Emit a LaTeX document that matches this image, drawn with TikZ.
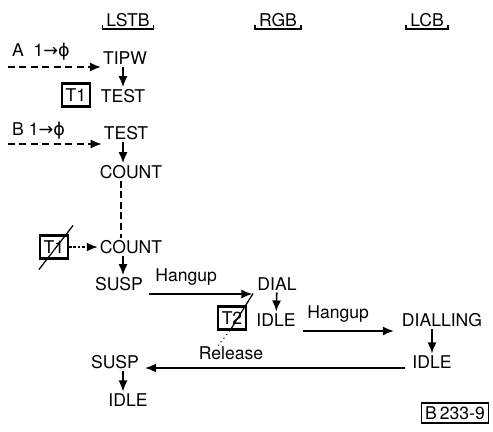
\documentclass[tikz,border=0pt]{standalone}
\usepackage{fontspec}
\setmainfont{TeX Gyre Heros}
\newfontfamily\symfont{DejaVu Sans}
\usetikzlibrary{arrows.meta, positioning}

\begin{document}
\begin{tikzpicture}[
    x=0.02cm, y=-0.02cm,
    font=\fontsize{10}{12}\selectfont,
    state/.style={inner sep=1pt},
    colhead/.style={inner sep=1pt},
    timer/.style={draw, line width=1.2pt, minimum width=0.56cm, minimum height=0.46cm, inner sep=1pt},
    arrow/.style={-{Latex[length=2.2mm, width=1.8mm]}, line width=0.9pt},
    trigger/.style={-{Latex[length=2.2mm, width=1.8mm]}, line width=0.9pt, dash pattern=on 4pt off 2.5pt},
    dotarrow/.style={-{Latex[length=2.2mm, width=1.8mm]}, line width=0.9pt, dash pattern=on 1.5pt off 1pt}
]
\useasboundingbox (0,0) rectangle (493,432);

% Column headers
\node[colhead] (lstb) at (128,20) {LSTB};
\node[colhead] (rgb) at (278,20) {RGB};
\node[colhead] (lcb) at (427,20) {LCB};
\foreach \c in {lstb,rgb,lcb}
  \draw[line width=0.8pt] ([shift={(-2,-4)}]\c.south west) -- ([shift={(-2,0)}]\c.south west)
    -- ([shift={(2,0)}]\c.south east) -- ([shift={(2,-4)}]\c.south east);

% LSTB column
\node[anchor=west] (alabel) at (6,52) {A\ \ 1{\symfont →ϕ}};
\node[state] (tipw) at (125,58) {TIPW};
\node[state] (test1) at (123,96) {TEST};
\node[timer] (timerA) at (76,95) {T1};
\node[anchor=west] (blabel) at (6,131) {B\ 1{\symfont →ϕ}};
\node[state] (test2) at (126,133) {TEST};
\node[state] (count1) at (131,172) {COUNT};
\node[state] (count2) at (131,247) {COUNT};
\node[timer] (timerB) at (54,247) {T1};
\node[state] (susp1) at (119,284) {SUSP};
\node[state] (susp2) at (115,362) {SUSP};
\node[state] (idle3) at (128,400) {IDLE};

% RGB column
\node[state] (dial) at (277,284) {DIAL};
\node[state] (idle1) at (276,320) {IDLE};
\node[timer] (timerC) at (232,318) {T2};

% LCB column
\node[state] (dialling) at (442,320) {DIALLING};
\node[state] (idle2) at (432,362) {IDLE};

\node[draw, line width=0.8pt, inner sep=2pt] (ref) at (455,413) {B\,233-9};

% Triggers
\coordinate (astart) at (8,67);
\coordinate (bstart) at (8,144);
\draw[trigger] (astart) -- (astart -| tipw.west);
\draw[trigger] (bstart) -- (bstart -| test2.west);
\draw[dotarrow] (timerB) -- (count2);

% Timer crossings
\draw[line width=0.7pt] ([shift={(0,10)}]timerB.south west) -- ([shift={(4,-9)}]timerB.north east);
\draw[line width=0.7pt] ([shift={(6,-12)}]timerC.north east) -- ([shift={(-2,0)}]timerC.south);
\draw[line width=0.6pt, dotted] ([shift={(-2,0)}]timerC.south) -- ([shift={(-14,15)}]timerC.south);

% Transitions
\draw[arrow] ([shift={(-2,0)}]tipw.south) -- (test1.north);
\draw[arrow] ([shift={(-3,0)}]test2.south) -- ([shift={(-8,0)}]count1.north);
\draw[line width=0.9pt, dash pattern=on 4pt off 2pt] ([shift={(-10,0)}]count1.south) -- ([shift={(-10,0)}]count2.north);
\draw[arrow] ([shift={(-8,0)}]count2.south) -- ([shift={(4,0)}]susp1.north);
\draw[arrow] ([shift={(4,10)}]susp1.east) -- node[above=1pt, pos=0.36] {Hangup} ([shift={(-3,10)}]dial.west);
\draw[arrow] (dial) -- (idle1);
\draw[arrow] ([shift={(5,11)}]idle1.east) -- node[above=1pt, pos=0.39] {Hangup} ([shift={(-6,11)}]dialling.west);
\draw[arrow] ([shift={(-10,0)}]dialling.south) -- (idle2.north);
\draw[arrow] ([shift={(-5,6)}]idle2.west) -- node[above=1pt, pos=0.67] {Release} ([shift={(4,6)}]susp2.east);
\draw[arrow] ([shift={(8,0)}]susp2.south) -- ([shift={(-5,0)}]idle3.north);

\end{tikzpicture}
\end{document}
